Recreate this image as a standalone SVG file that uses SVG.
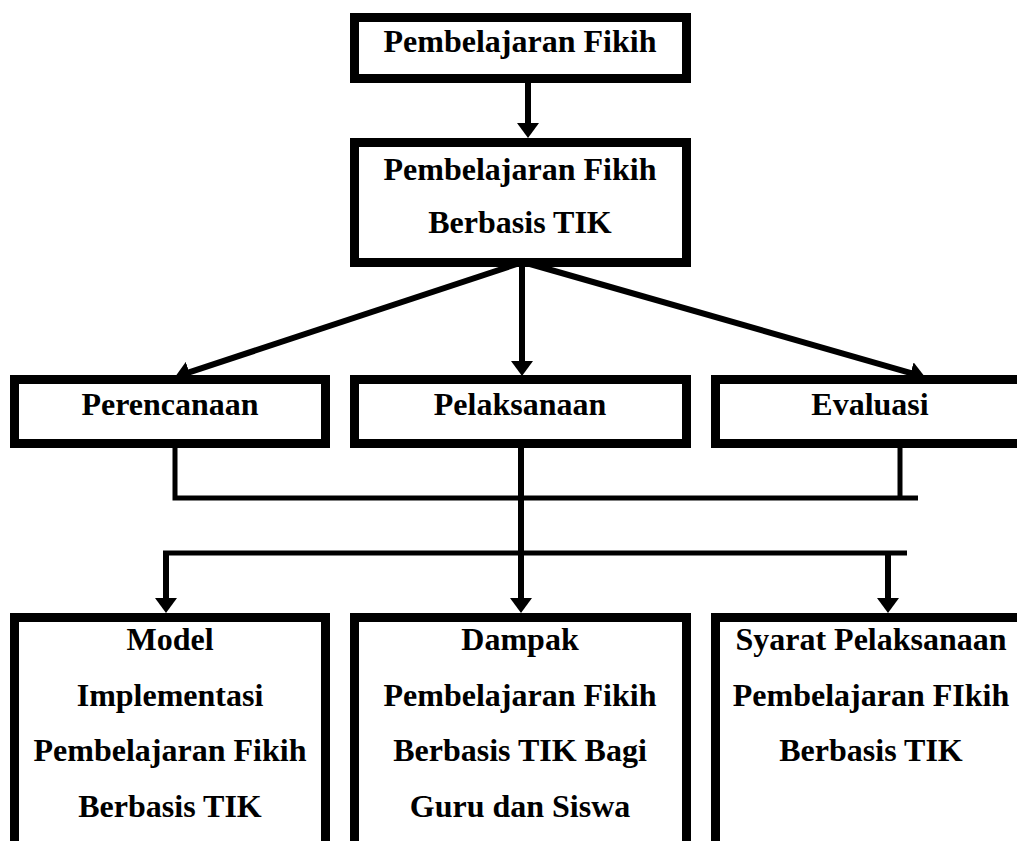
<svg xmlns="http://www.w3.org/2000/svg" width="1017" height="841" viewBox="0 0 1017 841">
  <style>
    .box { fill: #ffffff; stroke: #000000; stroke-width: 9; }
    .t { font-family: "Liberation Serif", "Times New Roman", serif; font-weight: bold; font-size: 32px; fill: #000000; text-anchor: middle; }
    .arr { stroke: #000000; stroke-width: 6; fill: none; marker-end: url(#ah); }
    .ln { stroke: #000000; stroke-width: 5; fill: none; }
  </style>
  <defs>
    <marker id="ah" markerUnits="userSpaceOnUse" viewBox="0 0 15 22" refX="5" refY="11" markerWidth="15" markerHeight="22" orient="auto">
      <path d="M0,0 L15,11 L0,22 Z" fill="#000000"/>
    </marker>
  </defs>
  <rect width="1017" height="841" fill="#ffffff"/>

  <g id="connectors">
    <line class="arr" x1="528" y1="83" x2="528" y2="128"/>
    <line class="arr" x1="523" y1="262" x2="184.5" y2="373.9"/>
    <line class="arr" x1="522" y1="262" x2="522" y2="366"/>
    <line class="arr" x1="523" y1="262" x2="915.4" y2="374.3"/>
    <polyline class="ln" points="175,448 175,498 918,498"/>
    <line class="ln" x1="900" y1="448" x2="900" y2="498"/>
    <line class="arr" x1="521" y1="448" x2="521" y2="603"/>
    <line class="ln" x1="163" y1="553" x2="907" y2="553"/>
    <line class="arr" x1="166" y1="553" x2="166" y2="603"/>
    <line class="arr" x1="888" y1="553" x2="888" y2="603"/>
  </g>

  <g id="n-fikih">
    <rect class="box" x="354.5" y="17.5" width="332" height="61"/>
    <text class="t" x="520" y="52">Pembelajaran Fikih</text>
  </g>
  <g id="n-fikih-tik">
    <rect class="box" x="354.5" y="142.5" width="332" height="120"/>
    <text class="t" x="520" y="180">Pembelajaran Fikih</text>
    <text class="t" x="520" y="233">Berbasis TIK</text>
  </g>
  <g id="n-perencanaan">
    <rect class="box" x="14.5" y="379.5" width="311" height="64"/>
    <text class="t" x="170" y="415">Perencanaan</text>
  </g>
  <g id="n-pelaksanaan">
    <rect class="box" x="354.5" y="379.5" width="332" height="64"/>
    <text class="t" x="520" y="415">Pelaksanaan</text>
  </g>
  <g id="n-evaluasi">
    <rect class="box" x="715.5" y="379.5" width="400" height="64"/>
    <text class="t" x="870" y="415">Evaluasi</text>
  </g>
  <g id="n-model">
    <rect class="box" x="14.5" y="617.5" width="311" height="300"/>
    <text class="t" x="170" y="650">Model</text>
    <text class="t" x="170" y="706">Implementasi</text>
    <text class="t" x="170" y="761">Pembelajaran Fikih</text>
    <text class="t" x="170" y="817">Berbasis TIK</text>
  </g>
  <g id="n-dampak">
    <rect class="box" x="354.5" y="617.5" width="332" height="300"/>
    <text class="t" x="520" y="650">Dampak</text>
    <text class="t" x="520" y="706">Pembelajaran Fikih</text>
    <text class="t" x="520" y="761">Berbasis TIK Bagi</text>
    <text class="t" x="520" y="817">Guru dan Siswa</text>
  </g>
  <g id="n-syarat">
    <rect class="box" x="715.5" y="617.5" width="400" height="300"/>
    <text class="t" x="871" y="650">Syarat Pelaksanaan</text>
    <text class="t" x="871" y="706">Pembelajaran FIkih</text>
    <text class="t" x="871" y="761">Berbasis TIK</text>
  </g>
</svg>
